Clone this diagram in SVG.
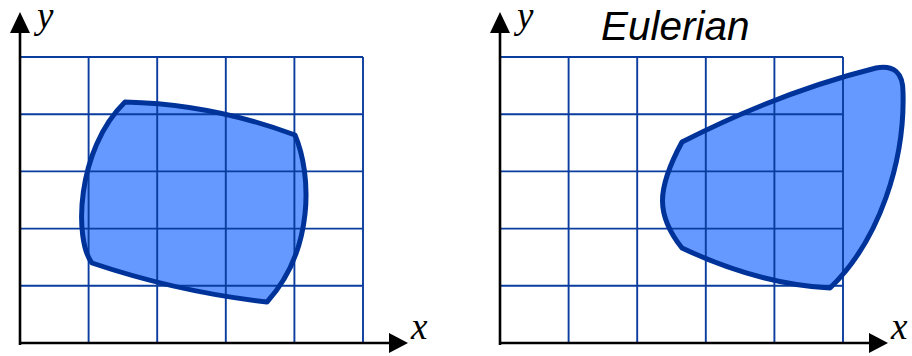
<svg xmlns="http://www.w3.org/2000/svg" width="912" height="356" viewBox="0 0 912 356">
<defs>
<style>
.grid{stroke:#0b3d9e;stroke-width:1.9;fill:none}
.axis{stroke:#000;stroke-width:2.6;fill:none}
.head{fill:#000}
.shape{fill:#6699ff}
.outline{fill:none;stroke:#003399;stroke-width:5;stroke-linejoin:round}
.lbl{font-family:"Liberation Serif",serif;font-style:italic;font-size:37px;fill:#000}
.title{font-family:"Liberation Sans",Arial,sans-serif;font-style:italic;font-size:40.5px;fill:#000}
</style>
</defs>
<g id="left-panel">
  <path class="shape" d="M125,102 Q212,104 295,135 C312,175 314,250 267,302 Q178,292 92,263 C74,240 76,150 125,102 Z"/>
  <g class="grid">
    <path d="M20,57H363M20,114.2H363M20,171.4H363M20,228.6H363M20,285.8H363"/>
    <path d="M88.6,57V343M157.2,57V343M225.8,57V343M294.4,57V343M363,57V343"/>
  </g>
  <path class="outline" d="M125,102 Q212,104 295,135 C312,175 314,250 267,302 Q178,292 92,263 C74,240 76,150 125,102 Z"/>
  <g id="left-axes">
    <path class="axis" d="M20,345V30M18.7,343H392"/>
    <path class="head" d="M20,12L10,33H30Z"/>
    <path class="head" d="M408,343L389,333V353Z"/>
    <text class="lbl" x="37" y="28">y</text>
    <text class="lbl" x="411" y="339">x</text>
  </g>
</g>
<g id="right-panel">
  <path class="shape" d="M682,142 Q780,92 876,68 Q903,63 903,92 C905,160 880,240 830,288 Q758,284 682,248 C656,215 656,190 682,142 Z"/>
  <g class="grid">
    <path d="M500,57H843M500,114.2H843M500,171.4H843M500,228.6H843M500,285.8H843"/>
    <path d="M568.6,57V343M637.2,57V343M705.8,57V343M774.4,57V343M843,57V343"/>
  </g>
  <path class="outline" d="M682,142 Q780,92 876,68 Q903,63 903,92 C905,160 880,240 830,288 Q758,284 682,248 C656,215 656,190 682,142 Z"/>
  <g id="right-axes">
    <path class="axis" d="M500,345V30M498.7,343H872"/>
    <path class="head" d="M500,12L490,33H510Z"/>
    <path class="head" d="M888,343L869,333V353Z"/>
    <text class="lbl" x="517" y="28">y</text>
    <text class="lbl" x="891" y="339">x</text>
  </g>
  <text id="title" class="title" x="601" y="40">Eulerian</text>
</g>
</svg>
